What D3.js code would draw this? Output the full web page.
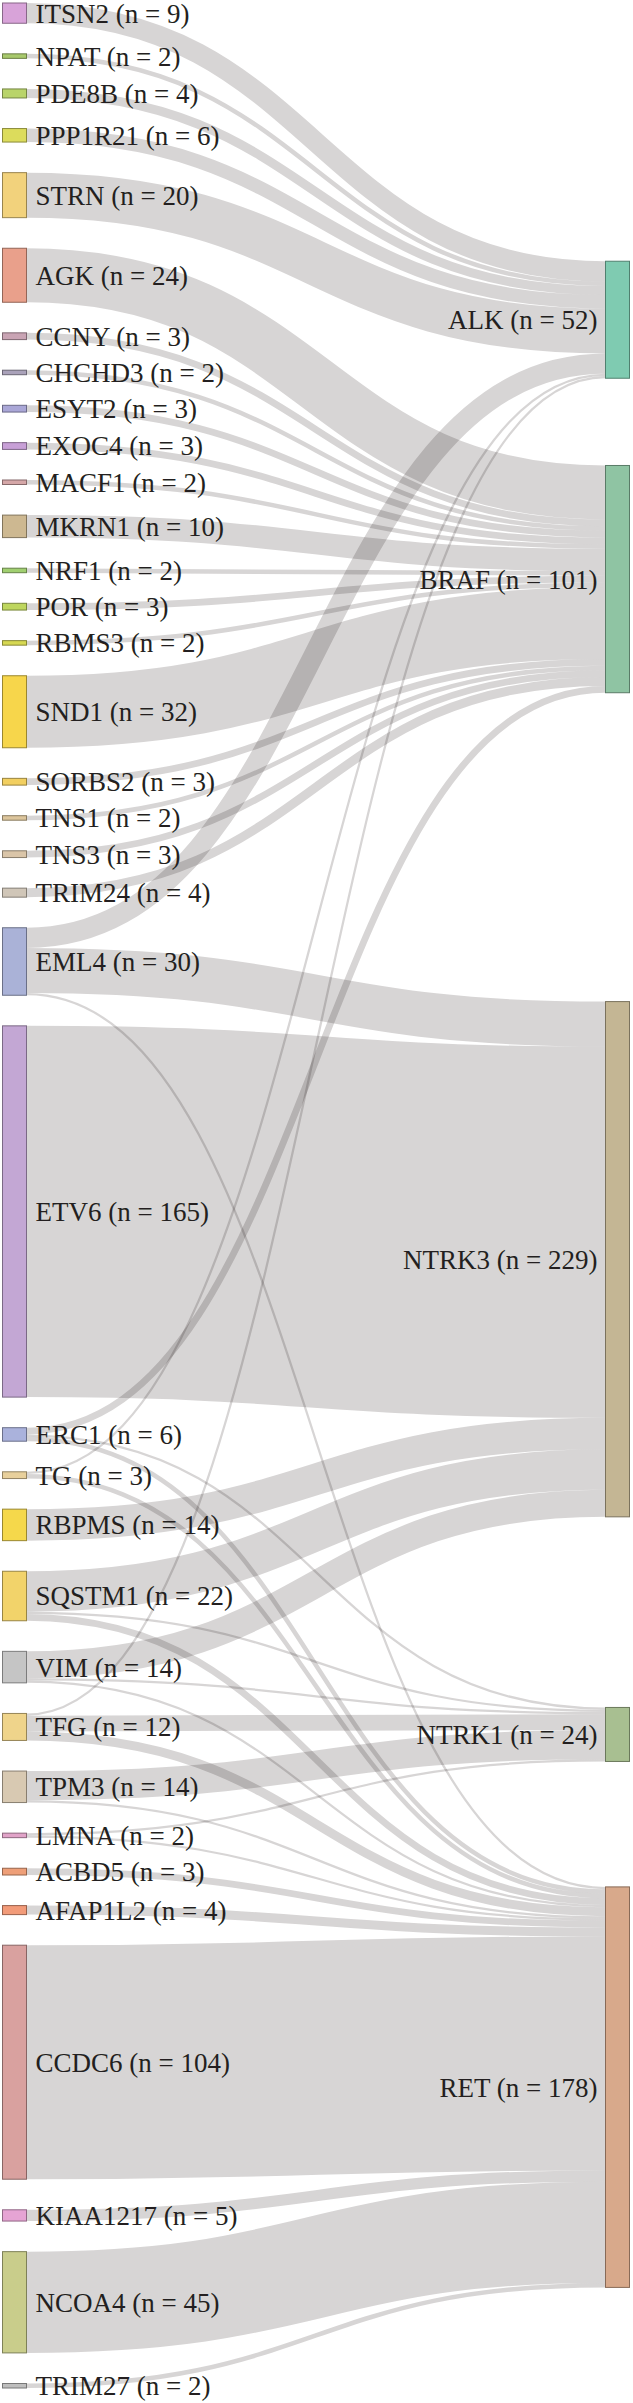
<!DOCTYPE html>
<html>

<head>
    <meta charset="utf-8">
    <title>Fusion partners</title>
    <script src="https://d3js.org/d3.v7.min.js"></script>
    <style>
        body { margin: 0; background: #fff; }
    </style>
</head>

<body>

    <svg width="633" height="2403" id="mainSvg"></svg>
    <script>
        // partner genes (left column), in drawing order
        const partners = ["ITSN2", "NPAT", "PDE8B", "PPP1R21", "STRN", "AGK", "CCNY", "CHCHD3", "ESYT2",
            "EXOC4", "MACF1", "MKRN1", "NRF1", "POR", "RBMS3", "SND1", "SORBS2", "TNS1", "TNS3", "TRIM24",
            "EML4", "ETV6", "ERC1", "TG", "RBPMS", "SQSTM1", "VIM", "TFG", "TPM3", "LMNA", "ACBD5",
            "AFAP1L2", "CCDC6", "KIAA1217", "NCOA4", "TRIM27"];
        // kinase genes (right column)
        const kinases = ["ALK", "BRAF", "NTRK3", "NTRK1", "RET"];

        // [partner, kinase, number of cases]
        const fusions = [
            ["ITSN2", "ALK", 9], ["NPAT", "ALK", 2], ["PDE8B", "ALK", 4], ["PPP1R21", "ALK", 6], ["STRN", "ALK", 20],
            ["AGK", "BRAF", 24], ["CCNY", "BRAF", 3], ["CHCHD3", "BRAF", 2], ["ESYT2", "BRAF", 3], ["EXOC4", "BRAF", 3],
            ["MACF1", "BRAF", 2], ["MKRN1", "BRAF", 10], ["NRF1", "BRAF", 2], ["POR", "BRAF", 3], ["RBMS3", "BRAF", 2],
            ["SND1", "BRAF", 32], ["SORBS2", "BRAF", 3], ["TNS1", "BRAF", 2], ["TNS3", "BRAF", 3], ["TRIM24", "BRAF", 4],
            ["EML4", "ALK", 9], ["EML4", "NTRK3", 20], ["EML4", "RET", 1],
            ["ETV6", "NTRK3", 165],
            ["ERC1", "BRAF", 3], ["ERC1", "NTRK1", 1], ["ERC1", "RET", 2],
            ["TG", "ALK", 1], ["TG", "RET", 2],
            ["RBPMS", "NTRK3", 14],
            ["SQSTM1", "NTRK3", 18], ["SQSTM1", "NTRK1", 1], ["SQSTM1", "RET", 3],
            ["VIM", "NTRK3", 12], ["VIM", "NTRK1", 1], ["VIM", "RET", 1],
            ["TFG", "ALK", 1], ["TFG", "NTRK1", 7], ["TFG", "RET", 4],
            ["TPM3", "NTRK1", 13], ["TPM3", "RET", 1],
            ["LMNA", "NTRK1", 1], ["LMNA", "RET", 1],
            ["ACBD5", "RET", 3], ["AFAP1L2", "RET", 4], ["CCDC6", "RET", 104],
            ["KIAA1217", "RET", 5], ["NCOA4", "RET", 45], ["TRIM27", "RET", 2]
        ];

        const partnerColors = ["#d8a3d9", "#a8c96c", "#b9d46a", "#dcdc5c", "#f2d27c", "#e9a08b", "#c9a4b4",
            "#aaa2ba", "#aaa7d7", "#c8a0d7", "#d5a7a8", "#cdb891", "#a0cf70", "#bed65e", "#d6d852", "#f7d64b",
            "#f2cf60", "#dcc59c", "#dac5a8", "#d0c6b8", "#aab2d7", "#c3a7d4", "#aab2dc", "#e8d09c", "#f5d84b",
            "#f2d36a", "#c5c5c5", "#efd48b", "#d8c9b2", "#e1a3c8", "#ee9f78", "#f29b79", "#d9a19f", "#e6a4d4",
            "#c9cd8b", "#bebebe"];
        const kinaseColors = ["#7fcbb1", "#8fc4a3", "#c4b694", "#a8bf91", "#d8a98b"];

        const mainSvg = d3.select("#mainSvg");
        const width = +mainSvg.attr("width");
        const extent = { top: 3, bottom: 2388 };
        const nodeWidth = 24;
        const nodePadding = 30.6;

        const color = d3.scaleOrdinal()
            .domain(partners.concat(kinases))
            .range(partnerColors.concat(kinaseColors));

        // ---- build graph ----
        const nodes = partners.map(name => ({ name, layer: 0 }))
            .concat(kinases.map(name => ({ name, layer: 1 })));
        const byName = new Map(nodes.map(d => [d.name, d]));
        nodes.forEach(n => { n.sourceLinks = []; n.targetLinks = []; });
        const links = fusions.map(([s, t, v]) => {
            const l = { source: byName.get(s), target: byName.get(t), value: v };
            l.source.sourceLinks.push(l);
            l.target.targetLinks.push(l);
            return l;
        });
        nodes.forEach(n => n.value = Math.max(d3.sum(n.sourceLinks, l => l.value), d3.sum(n.targetLinks, l => l.value)));

        const columns = [nodes.filter(n => n.layer === 0), nodes.filter(n => n.layer === 1)];
        const ky = d3.min(columns, c => (extent.bottom - extent.top - (c.length - 1) * nodePadding) / d3.sum(c, n => n.value));
        const x = d3.scaleLinear().domain([0, 1]).range([2.5, width - 3.5 - nodeWidth]);

        nodes.forEach(n => { n.x0 = x(n.layer); n.x1 = n.x0 + nodeWidth; });
        links.forEach(l => l.width = l.value * ky);

        columns.forEach(c => {
            let y = extent.top;
            c.forEach(n => { n.y0 = y; n.y1 = y + n.value * ky; y = n.y1 + nodePadding; });
            const spare = (extent.bottom - y + nodePadding) / (c.length + 1);
            c.forEach((n, i) => { n.y0 += spare * (i + 1); n.y1 += spare * (i + 1); });
        });

        const reorderLinks = () => nodes.forEach(n => {
            n.sourceLinks.sort((a, b) => a.target.y0 - b.target.y0);
            n.targetLinks.sort((a, b) => a.source.y0 - b.source.y0);
        });
        reorderLinks();

        // where the target would sit for this link to run flat
        const targetTop = (source, target) => {
            let y = source.y0 - (source.sourceLinks.length - 1) * nodePadding / 2;
            for (const l of source.sourceLinks) { if (l.target === target) break; y += l.width + nodePadding; }
            for (const l of target.targetLinks) { if (l.source === source) break; y -= l.width; }
            return y;
        };

        const resolveCollisions = (col, alpha) => {
            const down = (y, i) => {
                for (; i < col.length; ++i) {
                    const n = col[i], dy = (y - n.y0) * alpha;
                    if (dy > 1e-6) { n.y0 += dy; n.y1 += dy; }
                    y = n.y1 + nodePadding;
                }
            };
            const up = (y, i) => {
                for (; i >= 0; --i) {
                    const n = col[i], dy = (n.y1 - y) * alpha;
                    if (dy > 1e-6) { n.y0 -= dy; n.y1 -= dy; }
                    y = n.y0 - nodePadding;
                }
            };
            const m = col.length >> 1, s = col[m];
            up(s.y0 - nodePadding, m - 1);
            down(s.y1 + nodePadding, m + 1);
            up(extent.bottom, col.length - 1);
            down(extent.top, 0);
        };

        const iterations = 6;
        for (let i = 0; i < iterations; ++i) {
            const alpha = Math.pow(0.99, i);
            const beta = Math.max(1 - alpha, (i + 1) / iterations);
            for (const target of columns[1]) {
                let y = 0, w = 0;
                for (const l of target.targetLinks) { y += targetTop(l.source, target) * l.value; w += l.value; }
                const dy = (y / w - target.y0) * alpha;
                target.y0 += dy; target.y1 += dy;
            }
            reorderLinks();
            resolveCollisions(columns[1], beta);
        }
        reorderLinks();

        nodes.forEach(n => {
            let y0 = n.y0, y1 = n.y0;
            n.sourceLinks.forEach(l => { l.y0 = y0 + l.width / 2; y0 += l.width; });
            n.targetLinks.forEach(l => { l.y1 = y1 + l.width / 2; y1 += l.width; });
        });

        // ---- draw ----
        const linkPath = d3.linkHorizontal()
            .source(d => [d.source.x1, d.y0])
            .target(d => [d.target.x0, d.y1]);

        mainSvg.append("g")
            .attr("fill", "none")
            .selectAll(".link").data(links).join("path")
            .attr("class", "link")
            .attr("d", linkPath)
            .attr("stroke", "rgb(20,5,5)")
            .attr("stroke-opacity", 0.17)
            .attr("stroke-width", d => Math.max(1, d.width));

        mainSvg.append("g")
            .selectAll(".node").data(nodes).join("rect")
            .attr("class", "node")
            .attr("x", d => d.x0)
            .attr("y", d => d.y0)
            .attr("width", d => d.x1 - d.x0)
            .attr("height", d => Math.max(1, d.y1 - d.y0))
            .attr("fill", d => color(d.name))
            .attr("stroke", d => d3.color(color(d.name)).darker(1.3))
            .attr("stroke-width", 1);

        mainSvg.append("g")
            .attr("font-family", "'Liberation Serif', 'Times New Roman', 'DejaVu Serif', serif")
            .attr("font-size", 27)
            .attr("fill", "#231f20")
            .selectAll(".label").data(nodes).join("text")
            .attr("class", "label")
            .attr("x", d => d.layer === 0 ? d.x1 + 9 : d.x0 - 8)
            .attr("y", d => (d.y0 + d.y1) / 2)
            .attr("dy", "0.35em")
            .attr("text-anchor", d => d.layer === 0 ? "start" : "end")
            .text(d => `${d.name} (n = ${d.value})`);
    </script>
</body>

</html>
